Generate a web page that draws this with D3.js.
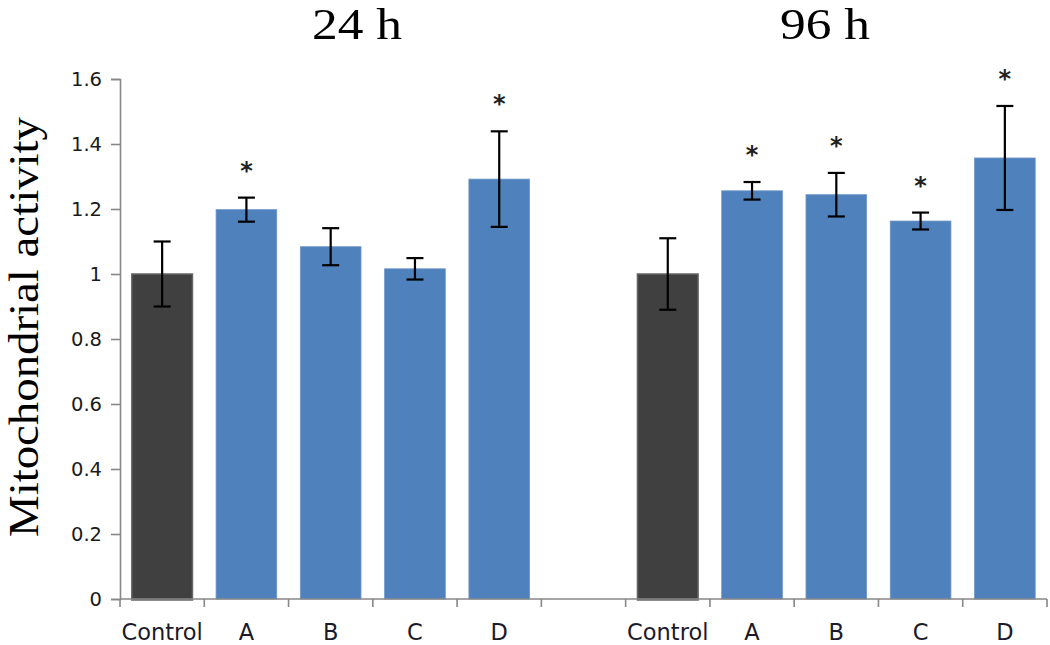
<!DOCTYPE html>
<html>
<head>
<meta charset="utf-8">
<script src="https://cdn.jsdelivr.net/npm/d3@7"></script>
<style>
  html, body { margin: 0; padding: 0; background: #fff; }
  svg { display: block; }
</style>
</head>
<body>
<svg id="chart" width="1050" height="645"></svg>
<script>
// ---- data ----
const groups = ["24 h", "96 h"];
const treatments = ["Control", "A", "B", "C", "D"];
const means24 = [1.0, 1.198, 1.084, 1.016, 1.292];
const errors24 = [0.10, 0.037, 0.057, 0.033, 0.147];
const signif24 = [false, true, false, false, true];
const means96 = [1.0, 1.256, 1.244, 1.163, 1.357];
const errors96 = [0.11, 0.027, 0.067, 0.026, 0.16];
const signif96 = [false, true, true, true, true];
const yTicks = [0, 0.2, 0.4, 0.6, 0.8, 1, 1.2, 1.4, 1.6];
const yLabel = "Mitochondrial activity";

(function () {
const rows = [];
treatments.forEach((t, i) => rows.push({ key: "24-" + t, label: t, value: means24[i], err: errors24[i], sig: signif24[i], control: t === "Control" }));
rows.push({ key: "gap", label: "", value: null });
treatments.forEach((t, i) => rows.push({ key: "96-" + t, label: t, value: means96[i], err: errors96[i], sig: signif96[i], control: t === "Control" }));

const svg = d3.select("#chart");
const mLeft = 120, mRight = 1047, mTop = 79, mBottom = 599;
const padIn = 0.28;

const x = d3.scaleBand().domain(rows.map(r => r.key)).range([mLeft, mRight]).paddingInner(padIn).paddingOuter(padIn / 2);
const y = d3.scaleLinear().domain([0, 1.6]).range([mBottom, mTop]);

const axisColor = "#878787";

// bars
const data = rows.filter(r => r.value !== null);
svg.append("g").selectAll("rect").data(data).join("rect")
  .attr("x", d => x(d.key))
  .attr("y", d => y(d.value))
  .attr("width", x.bandwidth())
  .attr("height", d => y(0) - y(d.value) + (d.control ? 1 : 0))
  .attr("fill", d => d.control ? "#404040" : "#4F81BD")
  .attr("stroke", d => d.control ? "#666666" : "#6f97c9")
  .attr("stroke-width", d => d.control ? 1.5 : 0.8);

// y axis
const yAxis = d3.axisLeft(y).tickValues(yTicks).tickFormat(d3.format("")).tickSize(9).tickPadding(9);
const gy = svg.append("g").attr("transform", `translate(${mLeft},0)`).call(yAxis);
gy.select(".domain").attr("stroke", axisColor).attr("stroke-width", 1.6);
gy.selectAll(".tick line").attr("stroke", axisColor).attr("stroke-width", 1.6);
gy.selectAll(".tick text").attr("font-family", "DejaVu Sans, Verdana, sans-serif").attr("font-size", 19.5).attr("fill", "#1a1a1a");

// x axis line + band boundary ticks
const xg = svg.append("g");
xg.append("line").attr("x1", mLeft).attr("x2", mRight).attr("y1", y(0)).attr("y2", y(0))
  .attr("stroke", axisColor).attr("stroke-width", 1.6);
const bnd = rows.map(r => x(r.key) - x.step() * padIn / 2);
bnd.push(mRight);
xg.selectAll("line.tk").data(bnd).join("line").attr("class", "tk")
  .attr("x1", d => d).attr("x2", d => d).attr("y1", y(0)).attr("y2", y(0) + 8)
  .attr("stroke", axisColor).attr("stroke-width", 1.6);

// x labels
svg.append("g").selectAll("text").data(rows.filter(r => r.label)).join("text")
  .attr("x", d => x(d.key) + x.bandwidth() / 2)
  .attr("y", 640)
  .attr("text-anchor", "middle")
  .attr("font-family", "DejaVu Sans, Verdana, sans-serif")
  .attr("font-size", 22.5)
  .attr("fill", "#1a1a2a")
  .text(d => d.label);

// error bars
const eb = svg.append("g").attr("stroke", "#000").attr("stroke-width", 2.2);
data.forEach(d => {
  const cx = x(d.key) + x.bandwidth() / 2;
  const y1 = y(d.value + d.err), y2 = y(d.value - d.err);
  eb.append("line").attr("x1", cx).attr("x2", cx).attr("y1", y1).attr("y2", y2);
  eb.append("line").attr("x1", cx - 8.5).attr("x2", cx + 8.5).attr("y1", y1).attr("y2", y1);
  eb.append("line").attr("x1", cx - 8.5).attr("x2", cx + 8.5).attr("y1", y2).attr("y2", y2);
});

// significance stars
svg.append("g").selectAll("text").data(data.filter(d => d.sig)).join("text")
  .attr("x", d => x(d.key) + x.bandwidth() / 2)
  .attr("y", d => y(d.value + d.err) - 19)
  .attr("text-anchor", "middle")
  .attr("font-family", "DejaVu Sans, sans-serif")
  .attr("font-weight", "bold")
  .attr("font-size", 24)
  .attr("fill", "#222")
  .text("*");

// group titles
const titleX = [357, 825];
svg.append("g").selectAll("text").data(groups).join("text")
  .attr("x", (d, i) => titleX[i])
  .attr("y", 39)
  .attr("text-anchor", "middle")
  .attr("font-family", "Liberation Serif, DejaVu Serif, serif")
  .attr("font-size", 45)
  .attr("textLength", 90)
  .attr("lengthAdjust", "spacingAndGlyphs")
  .attr("fill", "#000")
  .text(d => d);

// y label
svg.append("text")
  .attr("transform", "translate(38,327) rotate(-90)")
  .attr("text-anchor", "middle")
  .attr("font-family", "Liberation Serif, DejaVu Serif, serif")
  .attr("font-size", 42)
  .attr("textLength", 420)
  .attr("lengthAdjust", "spacingAndGlyphs")
  .attr("fill", "#000")
  .text(yLabel);
})();
</script>
</body>
</html>
